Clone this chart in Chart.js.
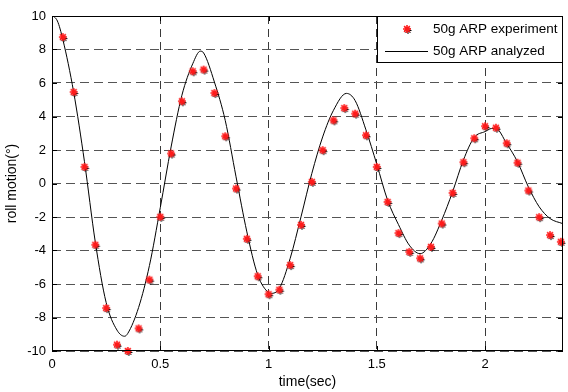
<!DOCTYPE html>
<html>
<head>
<meta charset="utf-8">
<script src="https://cdn.jsdelivr.net/npm/chart.js@4.4.0/dist/chart.umd.min.js"></script>
<style>
  html, body { margin: 0; padding: 0; background: #fff; }
  #wrap { width: 568px; height: 392px; }
</style>
</head>
<body>
<div id="wrap"><canvas id="rollChart" width="568" height="392"></canvas></div>
<script>
// Experiment samples (time in sec, roll in deg)
const expTime = [0.05, 0.10, 0.15, 0.20, 0.25, 0.30, 0.35, 0.40, 0.45, 0.50,
                 0.55, 0.60, 0.65, 0.70, 0.75, 0.80, 0.85, 0.90, 0.95, 1.00,
                 1.05, 1.10, 1.15, 1.20, 1.25, 1.30, 1.35, 1.40, 1.45, 1.50,
                 1.55, 1.60, 1.65, 1.70, 1.75, 1.80, 1.85, 1.90, 1.95, 2.00,
                 2.05, 2.10, 2.15, 2.20, 2.25, 2.30, 2.35];
const expRoll = [8.74, 5.46, 0.99, -3.66, -7.44, -9.62, -10.0, -8.65, -5.74, -1.99,
                 1.79, 4.91, 6.70, 6.80, 5.40, 2.82, -0.30, -3.30, -5.54, -6.61,
                 -6.34, -4.87, -2.47, 0.10, 1.99, 3.77, 4.50, 4.17, 2.88, 0.99,
                 -1.10, -2.96, -4.08, -4.47, -3.78, -2.39, -0.56, 1.27, 2.70, 3.42,
                 3.33, 2.40, 1.24, -0.42, -2.01, -3.08, -3.48];

// Analyzed response
const fitTime = [0.00, 0.025, 0.05, 0.10, 0.15, 0.20, 0.25, 0.30, 0.335, 0.35,
                 0.40, 0.45, 0.50, 0.55, 0.60, 0.65, 0.685, 0.70, 0.75, 0.80,
                 0.85, 0.90, 0.95, 1.00, 1.01, 1.05, 1.10, 1.15, 1.20, 1.25,
                 1.30, 1.36, 1.40, 1.45, 1.50, 1.55, 1.60, 1.65, 1.70, 1.75,
                 1.80, 1.85, 1.90, 1.95, 2.00, 2.03, 2.05, 2.10, 2.15, 2.20,
                 2.25, 2.30, 2.36];
const fitRoll = [10.05, 9.7, 8.6, 5.46, 1.3, -3.5, -7.1, -8.75, -9.12, -8.95,
                 -7.4, -4.9, -1.45, 2.18, 5.27, 7.15, 7.9, 7.8, 6.06, 3.77,
                 0.40, -2.89, -5.45, -6.52, -6.56, -6.26, -4.47, -1.99, 0.60, 2.78,
                 4.37, 5.38, 4.95, 3.2, 1.15, -1.0, -2.45, -3.68, -4.19, -3.58,
                 -2.19, -0.50, 1.40, 2.75, 3.10, 3.28, 3.28, 2.38, 1.29, -0.20,
                 -1.39, -2.09, -2.40];

const xTicks = [0, 0.5, 1, 1.5, 2];
const yTicks = [-10, -8, -6, -4, -2, 0, 2, 4, 6, 8, 10];

const seriesNames = ['50g ARP experiment', '50g ARP analyzed'];

const FONT = "'Liberation Sans', Arial, sans-serif";

// MATLAB style '*' marker, red with a black shadow
function drawAsterisk(g, cx, cy, r, color, w) {
    const d = r * 0.72;
    g.strokeStyle = color;
    g.lineWidth = w;
    g.beginPath();
    g.moveTo(cx - r, cy); g.lineTo(cx + r, cy);
    g.moveTo(cx, cy - r); g.lineTo(cx, cy + r);
    g.moveTo(cx - d, cy - d); g.lineTo(cx + d, cy + d);
    g.moveTo(cx - d, cy + d); g.lineTo(cx + d, cy - d);
    g.stroke();
}

function makeStar() {
    const c = document.createElement('canvas');
    c.width = 16;
    c.height = 16;
    const g = c.getContext('2d');
    drawAsterisk(g, 9, 9.5, 3.5, '#000', 1);
    drawAsterisk(g, 8, 8, 4, '#ff1a1a', 1.6);
    return c;
}
const starImg = makeStar();

// Box, inner ticks and legend like a MATLAB axes
const matlabBox = {
    id: 'matlabBox',
    afterDraw(chart) {
        const ctx = chart.ctx;
        const a = chart.chartArea;
        const xs = chart.scales.x, ys = chart.scales.y;
        ctx.save();
        ctx.strokeStyle = '#000';
        ctx.lineWidth = 1;
        ctx.setLineDash([]);

        // inner ticks
        ctx.beginPath();
        xTicks.forEach(v => {
            const px = Math.round(xs.getPixelForValue(v)) + 0.5;
            ctx.moveTo(px, a.bottom); ctx.lineTo(px, a.bottom - 5);
            ctx.moveTo(px, a.top); ctx.lineTo(px, a.top + 5);
        });
        yTicks.forEach(v => {
            const py = Math.round(ys.getPixelForValue(v)) + 0.5;
            ctx.moveTo(a.left, py); ctx.lineTo(a.left + 5, py);
            ctx.moveTo(a.right, py); ctx.lineTo(a.right - 5, py);
        });
        ctx.stroke();

        // axes box
        ctx.strokeRect(a.left + 0.5, a.top + 0.5, a.right - a.left - 1, a.bottom - a.top - 1);

        // legend
        const lx = 377, ly = a.top, lw = a.right - lx, lh = 47;
        ctx.fillStyle = '#fff';
        ctx.fillRect(lx, ly, lw, lh);
        ctx.strokeRect(lx + 0.5, ly + 0.5, lw - 1, lh - 1);

        ctx.drawImage(starImg, 407 - 8, 29 - 8);
        ctx.beginPath();
        ctx.moveTo(385, 51.5);
        ctx.lineTo(428, 51.5);
        ctx.stroke();

        ctx.fillStyle = '#000';
        ctx.font = '13.5px ' + FONT;
        ctx.textBaseline = 'middle';
        ctx.textAlign = 'left';
        ctx.fillText(seriesNames[0], 433, 29);
        ctx.fillText(seriesNames[1], 433, 51);
        ctx.restore();
    }
};

const ctx = document.getElementById('rollChart');

new Chart(ctx, {
    type: 'scatter',
    data: {
        datasets: [
            {
                label: seriesNames[1],
                data: fitTime.map((t, i) => ({ x: t, y: fitRoll[i] })),
                showLine: true,
                borderColor: '#000',
                borderWidth: 1,
                pointRadius: 0,
                cubicInterpolationMode: 'monotone',
                order: 2
            },
            {
                label: seriesNames[0],
                data: expTime.map((t, i) => ({ x: t, y: expRoll[i] })),
                showLine: false,
                pointStyle: starImg,
                clip: false,
                order: 1
            }
        ]
    },
    options: {
        responsive: false,
        devicePixelRatio: 1,
        animation: false,
        layout: { padding: { top: 16, right: 1, left: 0, bottom: 0 } },
        plugins: {
            legend: { display: false },
            tooltip: { enabled: false }
        },
        scales: {
            x: {
                type: 'linear',
                min: 0,
                max: 2.36,
                afterBuildTicks: s => { s.ticks = xTicks.map(v => ({ value: v })); },
                afterFit: s => { s.height = 41; },
                grid: {
                    color: '#3a3a3a',
                    lineWidth: 1,
                    drawTicks: false
                },
                border: { display: false, dash: [8, 5] },
                ticks: {
                    color: '#000',
                    padding: 6,
                    maxRotation: 0,
                    font: { family: FONT, size: 13 },
                    callback: v => String(v)
                },
                title: {
                    display: true,
                    text: 'time(sec)',
                    color: '#000',
                    font: { family: FONT, size: 14 },
                    padding: { top: 0, bottom: 1 }
                }
            },
            y: {
                min: -10,
                max: 10,
                afterBuildTicks: s => { s.ticks = yTicks.map(v => ({ value: v })); },
                afterFit: s => { s.width = 52; },
                grid: {
                    color: '#555',
                    lineWidth: 1,
                    drawTicks: false
                },
                border: { display: false, dash: [9, 5] },
                ticks: {
                    color: '#000',
                    padding: 6,
                    font: { family: FONT, size: 13 },
                    callback: v => String(v)
                },
                title: {
                    display: true,
                    text: 'roll motion(°)',
                    color: '#000',
                    font: { family: FONT, size: 14 },
                    padding: { top: 4, bottom: 0 }
                }
            }
        }
    },
    plugins: [matlabBox]
});
</script>
</body>
</html>
